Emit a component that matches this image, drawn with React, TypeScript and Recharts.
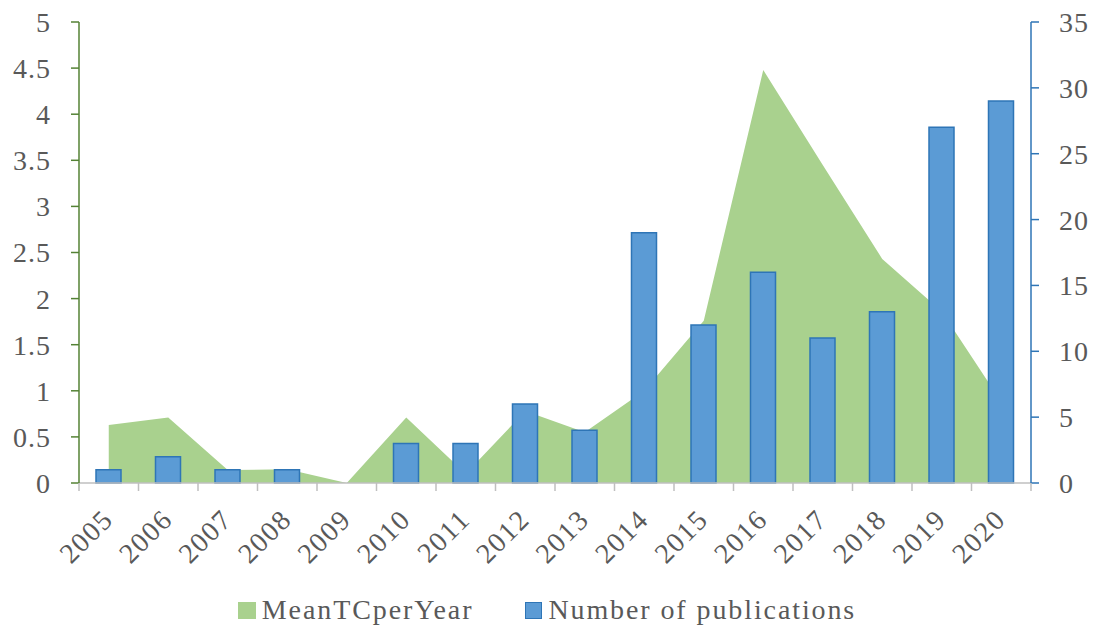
import React from 'react';
import {
  ComposedChart, Area, Bar, XAxis, YAxis, Legend,
} from 'recharts';

const years = ['2005', '2006', '2007', '2008', '2009', '2010', '2011', '2012', '2013', '2014', '2015', '2016', '2017', '2018', '2019', '2020'];
const meanTCperYear = [0.63, 0.71, 0.14, 0.15, 0, 0.71, 0.1, 0.78, 0.55, 1.0, 1.76, 4.48, 3.45, 2.43, 1.86, 0.88];
const publications = [1, 2, 1, 1, 0, 3, 3, 6, 4, 19, 12, 16, 11, 13, 27, 29];
const leftTicks = [0, 0.5, 1, 1.5, 2, 2.5, 3, 3.5, 4, 4.5, 5];
const rightTicks = [0, 5, 10, 15, 20, 25, 30, 35];

const data = years.map((y, i) => ({ year: y, mean: meanTCperYear[i], pubs: publications[i] }));

const W = 1094;
const H = 632;
const LEFT_W = 79;
const RIGHT_W = 63;
const PLOT_W = W - LEFT_W - RIGHT_W;
const FONT = 'Liberation Serif, Tinos, Times New Roman, DejaVu Serif, serif';
const TEXT = '#595959';
const GREEN_FILL = '#a9d18e';
const GREEN_AXIS = '#548235';
const BLUE_FILL = '#5b9bd5';
const BLUE_LINE = '#2e75b6';

const XTick = ({ x, y, payload, index }: any) => {
  const bw = PLOT_W / years.length;
  const tx = x + 6;
  const ty = y + 38;
  return (
    <g>
      <line x1={x - bw / 2} x2={x - bw / 2} y1={y} y2={y + 8} stroke="#bfbfbf" strokeWidth={1.5} />
      {index === years.length - 1 && (
        <line x1={x + bw / 2} x2={x + bw / 2} y1={y} y2={y + 8} stroke="#bfbfbf" strokeWidth={1.5} />
      )}
      <text
        x={tx}
        y={ty}
        textAnchor="end"
        transform={`rotate(-45, ${tx}, ${ty})`}
        fill={TEXT}
        style={{ fontSize: 28, fontFamily: FONT, letterSpacing: 1.5 }}
      >
        {payload.value}
      </text>
    </g>
  );
};

const LegendContent = () => (
  <div style={{
    display: 'flex', justifyContent: 'center', alignItems: 'center',
    fontFamily: FONT, fontSize: 28, letterSpacing: 1.9, color: TEXT, height: 40,
  }}>
    <span style={{ display: 'inline-block', width: 18, height: 17, background: GREEN_FILL, marginRight: 6 }} />
    <span style={{ marginRight: 52 }}>MeanTCperYear</span>
    <span style={{
      display: 'inline-block', width: 15, height: 15, background: BLUE_FILL,
      border: `1.5px solid ${BLUE_LINE}`, marginRight: 6,
    }} />
    <span>Number of publications</span>
  </div>
);

export default function App() {
  return (
    <div style={{ width: W, height: H, background: '#fff', fontFamily: FONT }}>
      <style>{'body{margin:0}'}</style>
      <ComposedChart
        width={W}
        height={H}
        data={data}
        margin={{ top: 22, right: 0, left: 0, bottom: 2 }}
        barCategoryGap={0}
        style={{ fontFamily: FONT }}
      >
        <XAxis
          dataKey="year"
          height={107}
          interval={0}
          tick={<XTick />}
          tickLine={false}
          tickSize={0}
          tickMargin={0}
          axisLine={{ stroke: '#bfbfbf', strokeWidth: 1.5 }}
        />
        <YAxis
          yAxisId="left"
          orientation="left"
          width={LEFT_W}
          domain={[0, 5]}
          ticks={leftTicks}
          interval={0}
          tickSize={8}
          tickMargin={20}
          axisLine={{ stroke: GREEN_AXIS, strokeWidth: 1.5 }}
          tickLine={{ stroke: GREEN_AXIS, strokeWidth: 1.5 }}
          tick={{ fill: TEXT, fontSize: 28, fontFamily: FONT, letterSpacing: 1 }}
        />
        <YAxis
          yAxisId="right"
          orientation="right"
          width={RIGHT_W}
          domain={[0, 35]}
          ticks={rightTicks}
          interval={0}
          tickSize={8}
          tickMargin={20}
          axisLine={{ stroke: BLUE_LINE, strokeWidth: 1.5 }}
          tickLine={{ stroke: BLUE_LINE, strokeWidth: 1.5 }}
          tick={{ fill: TEXT, fontSize: 28, fontFamily: FONT, textAnchor: 'start', letterSpacing: 1 }}
        />
        <Area
          yAxisId="left"
          type="linear"
          dataKey="mean"
          name="MeanTCperYear"
          fill={GREEN_FILL}
          fillOpacity={1}
          stroke="none"
          isAnimationActive={false}
        />
        <Bar
          yAxisId="right"
          dataKey="pubs"
          name="Number of publications"
          barSize={25}
          fill={BLUE_FILL}
          stroke={BLUE_LINE}
          strokeWidth={1.5}
          isAnimationActive={false}
        />
        <Legend verticalAlign="bottom" height={40} content={<LegendContent />} />
      </ComposedChart>
    </div>
  );
}
